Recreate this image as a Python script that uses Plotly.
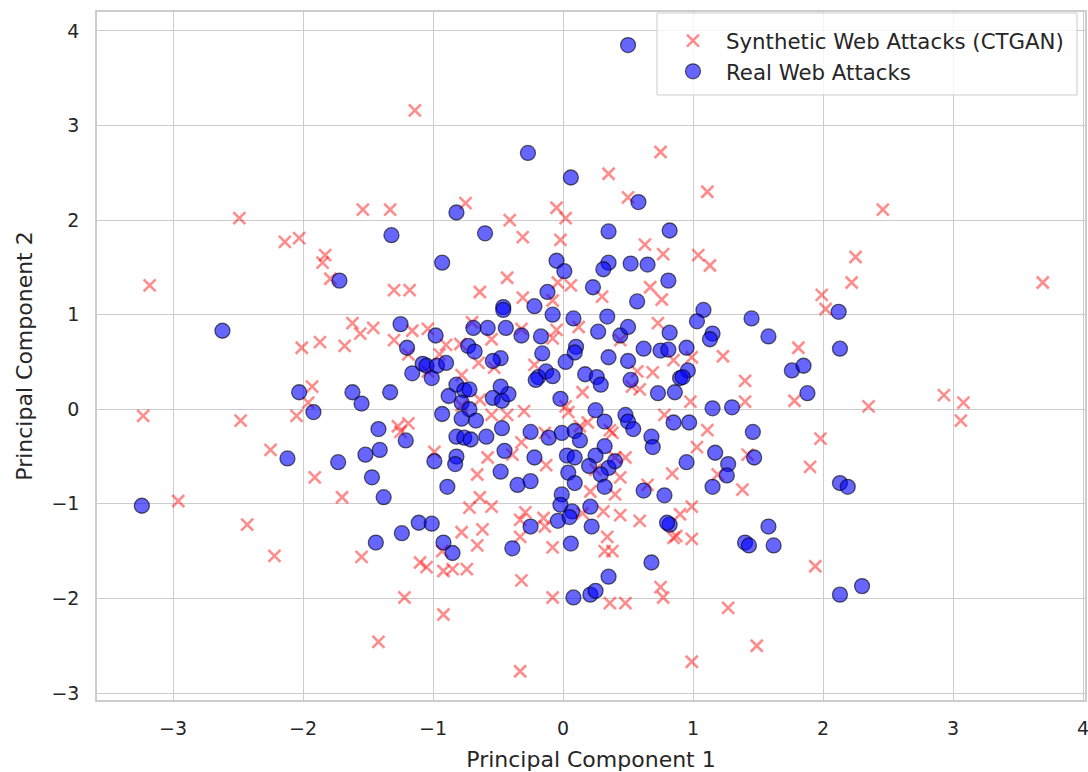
import plotly.graph_objects as go

# Real Web Attacks (blue circles)
real_x = [0.50, -0.27, 0.06, 0.58, -0.82, -0.60, -1.32, 0.35, 0.82,
          -0.93, -0.05, 0.01, 0.35, 0.31, 0.52, 0.65, 0.81, -1.72,
          -0.12, 0.23, 0.57, -0.22, -0.46, -0.46, -0.08, 0.08, 0.34,
          1.08, 1.03, 1.45, 2.12, -2.62, -1.25, -0.69, -0.58, -0.44,
          -0.32, -0.17, 0.10, 0.09, 0.27, 0.44, 0.50, 0.82, 1.15, 1.13,
          1.58, -1.20, -0.73, -0.68, -0.48, -0.16, 0.35, 0.50, 0.62,
          0.75, 0.81, 0.95, 2.13, -1.16, -1.08, -1.05, -0.97, -0.90, -0.98, -0.54,
          -0.19, -0.13, -0.08, -0.21, 0.02, 0.17, 0.26, 0.29, 0.52, 0.96, 0.90, 0.92, 1.76, 1.85, 1.88,
          -2.03, -1.62, -1.55, -1.33, -1.01, -0.82, -0.88, -0.76, -0.72, -0.78, -0.54, -0.47, -0.42, -0.48, -0.02, 0.73, 0.86, 1.15, 1.30,
          -1.92, -0.93, -0.72, -0.67, -0.78, -0.82, -0.76, -0.71, -0.59, -0.47, -0.25, -0.11, -0.01, 0.09, 0.13, 0.25, 0.32, 0.48, 0.50, 0.54, 0.85, 0.97, 0.68, 0.69, 0.32, 1.46,
          -1.42, -1.21, -1.41, -0.99, -0.82, -0.83, -0.45, -0.22, 0.03, 0.09, 0.25, 0.35, 0.40, 0.20, 0.29,
          -1.73, -1.52, -1.47, -1.38, -2.12, 1.17, 1.27, 1.26, 1.15, 1.47, 0.95, 0.62, 0.78, 0.32, -0.35, -0.89, -0.25,
          -0.01, -0.02, 0.07, -0.04, 0.05, 0.04, 0.09, -0.48, 0.21, -3.24, -1.11, -1.01, -1.24, -0.25, -0.39, -0.92, -0.85, -1.44, 0.06, 0.22, 0.82, 0.80, 0.68, 1.40, 1.43, 1.58, 1.62, 0.08, 0.21, 0.25, 0.35, 2.13, 2.30, 2.13, 2.19]
real_y = [3.85, 2.71, 2.45, 2.19, 2.08, 1.86, 1.84, 1.88, 1.89,
          1.55, 1.57, 1.46, 1.55, 1.48, 1.54, 1.53, 1.36, 1.36,
          1.24, 1.29, 1.14, 1.09, 1.08, 1.05, 1.00, 0.96, 0.98,
          1.05, 0.93, 0.96, 1.03, 0.83, 0.90, 0.86, 0.86, 0.86,
          0.78, 0.77, 0.66, 0.60, 0.82, 0.78, 0.87, 0.81, 0.80, 0.74,
          0.77, 0.65, 0.67, 0.61, 0.54, 0.59, 0.55, 0.51, 0.64,
          0.62, 0.63, 0.65, 0.64, 0.38, 0.48, 0.46, 0.46, 0.49, 0.78, 0.51,
          0.34, 0.40, 0.35, 0.31, 0.50, 0.37, 0.34, 0.26, 0.31, 0.41, 0.33, 0.34, 0.41, 0.46, 0.17,
          0.18, 0.18, 0.06, 0.18, 0.33, 0.26, 0.14, 0.20, 0.21, 0.07, 0.12, 0.09, 0.16, 0.24, 0.11, 0.17, 0.18, 0.01, 0.02,
          -0.03, -0.05, 0.00, -0.12, -0.10, -0.29, -0.30, -0.32, -0.29, -0.20, -0.24, -0.30, -0.25, -0.23, -0.33, -0.01, -0.13, -0.06, -0.13, -0.21, -0.14, -0.14, -0.29, -0.40, -0.39, -0.24,
          -0.21, -0.33, -0.43, -0.55, -0.50, -0.58, -0.44, -0.51, -0.49, -0.51, -0.49, -0.62, -0.55, -0.60, -0.69,
          -0.56, -0.48, -0.72, -0.93, -0.52, -0.46, -0.58, -0.70, -0.82, -0.51, -0.56, -0.86, -0.91, -0.82, -0.80, -0.82, -0.76,
          -0.90, -1.01, -1.08, -1.18, -1.14, -0.67, -0.78, -0.66, -1.03, -1.02, -1.20, -1.21, -1.31, -1.24, -1.47, -1.41, -1.52, -1.41, -1.42, -1.24, -1.22, -1.20, -1.62, -1.41, -1.44, -1.24, -1.44, -1.99, -1.96, -1.92, -1.77, -1.96, -1.87, -0.78, -0.82]

# Synthetic Web Attacks (CTGAN) (red crosses)
synth_x = [-1.14, 0.75, 0.35, 1.11, 0.50, -0.75, -2.49, -1.54, -1.33, -0.05, 0.02, -0.41, 2.46,
           -2.14, -2.03, -0.31, -0.02, 0.63, 0.77, 1.04, 1.13, -1.83, -1.85, -1.79, -3.18,
           -1.30, -1.18, -0.64, -0.43, 2.22, 3.69, 2.25, 1.99, 2.02, -0.04, 0.06, 0.30, 0.67, 0.76, -0.31, -0.08,
           -1.62, -1.46, -1.56, -1.30, -1.16, -1.04, -2.01, -1.87, -1.68, -0.70, -0.90, -0.79, -0.55, -0.32, -0.08, -0.05, 0.12, 0.73, 0.44, 0.85, 0.99, 1.23, 1.81,
           -1.19, -0.65, -0.53, -1.04, -0.78, -0.22, 0.57, 0.69, 0.53, 0.59, 1.40, 1.40, 0.98, 1.78, -0.95,
           -1.93, -1.96, -2.05, -3.23, 2.93, 3.08, 3.06, 2.35, -2.48, -1.27, -1.25, -1.19,
           -0.64, -0.78, -0.55, -0.43, -0.30, 0.02, 0.04, 0.15, 0.13, 0.36, 0.38, 0.78, 1.03, 1.11, 1.98,
           -2.25, -1.91, -2.43, -2.96, -1.70, -2.22, -1.22, -1.42, -0.92, -0.33, 0.99, 1.49, 1.27, 1.94, 1.90,
           0.75, 0.77, 0.48, 0.36, -0.08, -0.32, -0.92, -0.74, -0.85, -1.10, -1.05, -1.55, -0.93, -0.66, -0.08, -0.33, -0.78, -0.62,
           -0.29, -0.33, -0.15, -0.14, -0.72, -0.55, -0.64, -0.66,
           0.44, 0.40, 0.31, 0.44, 0.59, 0.34, 0.32, 0.38, 0.85, 0.87, 0.90, 0.99, 0.99, 0.84, 1.38, 1.19,
           -0.99, -0.58, -0.39, -0.13, -0.32, -0.14, 0.19, 0.25, 0.65, 0.21, 0.15, 0.40, 0.48, 1.42]
synth_y = [3.16, 2.72, 2.49, 2.30, 2.24, 2.18, 2.02, 2.11, 2.11, 2.13, 2.02, 2.00, 2.11,
           1.77, 1.81, 1.82, 1.79, 1.74, 1.64, 1.63, 1.52, 1.63, 1.55, 1.38, 1.31,
           1.26, 1.26, 1.24, 1.39, 1.34, 1.34, 1.61, 1.21, 1.06, 1.34, 1.31, 1.19, 1.29, 1.16, 1.18, 1.15,
           0.91, 0.86, 0.80, 0.73, 0.83, 0.85, 0.65, 0.71, 0.67, 0.92, 0.68, 0.69, 0.74, 0.85, 0.75, 0.84, 0.87, 0.91, 0.73, 0.52, 0.55, 0.56, 0.65,
           0.58, 0.49, 0.44, 0.40, 0.36, 0.47, 0.40, 0.39, 0.24, 0.21, 0.30, 0.08, 0.08, 0.09, 0.58,
           0.24, 0.07, -0.07, -0.07, 0.15, 0.07, -0.12, 0.03, -0.12, -0.18, -0.24, -0.15,
           0.10, 0.04, -0.06, -0.06, -0.02, 0.03, -0.03, 0.18, -0.18, -0.22, -0.25, -0.06, -0.40, -0.22, -0.31,
           -0.43, -0.72, -1.22, -0.97, -0.93, -1.55, -1.99, -2.46, -2.17, -2.77, -2.67, -2.50, -2.10, -1.66, -0.61,
           -1.88, -1.99, -2.05, -2.05, -1.99, -1.81, -1.71, -1.69, -1.69, -1.62, -1.67, -1.56, -1.50, -1.44, -1.46, -1.35, -1.30, -1.27,
           -1.09, -1.17, -1.15, -1.24, -1.04, -1.03, -0.93, -0.69,
           -0.72, -0.90, -1.08, -1.12, -1.18, -1.35, -1.50, -1.50, -1.36, -1.34, -1.11, -1.03, -1.37, -0.68, -0.85, -0.69,
           -0.45, -0.51, -0.48, -0.59, -0.35, -0.25, -0.14, -0.64, -0.80, -0.87, -1.10, -0.51, -0.51, -0.48]

x_ticks = [-3, -2, -1, 0, 1, 2, 3, 4]
y_ticks = [-3, -2, -1, 0, 1, 2, 3, 4]

fig = go.Figure()
fig.add_trace(go.Scatter(
    x=synth_x, y=synth_y, mode="markers", name="Synthetic Web Attacks (CTGAN)",
    marker=dict(symbol="x-thin", size=12, color="rgba(255,0,0,0.45)",
                line=dict(width=2.6, color="rgba(255,0,0,0.45)")),
))
fig.add_trace(go.Scatter(
    x=real_x, y=real_y, mode="markers", name="Real Web Attacks",
    marker=dict(symbol="circle", size=15, color="rgba(0,0,255,0.6)",
                line=dict(width=1.3, color="rgba(0,0,0,0.6)")),
))

axis_common = dict(
    showgrid=True, gridcolor="#cccccc", gridwidth=1,
    zeroline=False, showline=True, linecolor="#cccccc", linewidth=1.5, mirror=True,
    ticks="outside", tickcolor="rgba(0,0,0,0)",
    tickfont=dict(size=19, color="#262626", family="DejaVu Sans"),
    automargin=False, ticklabeloverflow="allow",
)
fig.update_xaxes(range=[-3.585, 4.015], tickvals=x_ticks, ticklen=10,
                 title=dict(text="Principal Component 1", font=dict(size=22, color="#262626"), standoff=16),
                 **axis_common)
fig.update_yaxes(range=[-3.074, 4.20], tickvals=y_ticks, ticklen=12,
                 title=dict(text="Principal Component 2", font=dict(size=22, color="#262626"), standoff=13),
                 **axis_common)

# legend frame (drawn as a shape so its padding can match)
fig.add_shape(type="rect", xref="paper", yref="paper",
              x0=0.5668, x1=0.9919, y0=0.8794, y1=0.9985,
              fillcolor="rgba(255,255,255,0.8)", line=dict(color="#cccccc", width=1),
              layer="above")

fig.update_layout(
    width=1088, height=772,
    margin=dict(l=97, r=3, t=12, b=72),
    paper_bgcolor="white", plot_bgcolor="white",
    font=dict(family="DejaVu Sans", color="#262626"),
    legend=dict(x=0.5698, xanchor="left", y=0.988, yanchor="top",
                bgcolor="rgba(0,0,0,0)", borderwidth=0,
                font=dict(size=21.3, color="#262626"), itemwidth=56),
    showlegend=True,
)

fig.write_html("out.html")
